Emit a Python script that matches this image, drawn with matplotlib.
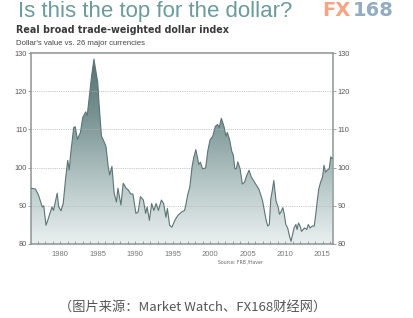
import numpy as np
import matplotlib
matplotlib.use("Agg")
import matplotlib.pyplot as plt
from matplotlib.colors import LinearSegmentedColormap

# Real broad trade-weighted dollar index
years = [1976.1, 1976.7, 1977.1, 1977.6, 1977.8, 1978.1, 1978.4, 1978.9, 1979.1, 1979.3,
         1979.6, 1979.8, 1980.1, 1980.4, 1980.7, 1981.0, 1981.2, 1981.4, 1981.8, 1982.0,
         1982.3, 1982.7, 1983.0, 1983.4, 1983.6, 1984.0, 1984.2, 1984.5, 1984.7, 1985.0,
         1985.2, 1985.5, 1985.8, 1986.1, 1986.4, 1986.6, 1986.9, 1987.2, 1987.5, 1987.7,
         1988.1, 1988.4, 1988.8, 1989.1, 1989.4, 1989.7, 1990.1, 1990.4, 1990.7, 1991.1,
         1991.4, 1991.6, 1991.9, 1992.2, 1992.5, 1992.8, 1993.1, 1993.5, 1993.8, 1994.1,
         1994.3, 1994.6, 1994.9, 1995.3, 1995.7, 1996.2, 1996.6, 1996.8, 1997.0, 1997.3,
         1997.6, 1997.8, 1998.1, 1998.5, 1998.7, 1999.0, 1999.4, 1999.7, 2000.0, 2000.35,
         2000.7, 2001.0, 2001.2, 2001.5, 2001.7, 2001.9, 2002.1, 2002.3, 2002.6, 2002.9,
         2003.1, 2003.3, 2003.5, 2003.7, 2004.0, 2004.3, 2004.6, 2004.9, 2005.2, 2005.5,
         2005.8, 2006.2, 2006.5, 2006.8, 2007.0, 2007.3, 2007.5, 2007.7, 2007.9, 2008.1,
         2008.3, 2008.5, 2008.6, 2008.8, 2009.1, 2009.25, 2009.5, 2009.7, 2009.9, 2010.1,
         2010.35, 2010.6, 2010.8, 2011.0, 2011.2, 2011.45, 2011.6, 2011.8, 2012.0, 2012.2,
         2012.6, 2012.9, 2013.1, 2013.35, 2013.65, 2013.9, 2014.1, 2014.3, 2014.5, 2014.75,
         2015.0, 2015.2, 2015.4, 2015.6, 2015.9, 2016.1, 2016.3]
index = [94.6, 94.4, 92.8, 89.7, 90.0, 84.9, 86.6, 89.7, 88.8, 90.6,
         93.3, 89.7, 88.7, 90.6, 96.8, 101.9, 99.4, 103.7, 110.5, 110.7,
         107.4, 109.2, 113.1, 114.6, 113.6, 120.6, 124.2, 128.4, 125.9, 122.4,
         116.2, 108.3, 107.0, 105.6, 100.3, 98.1, 100.3, 93.3, 91.0, 94.6,
         90.2, 95.9, 94.6, 94.1, 93.1, 93.1, 88.0, 88.4, 92.4, 91.5,
         88.0, 89.7, 86.2, 90.6, 88.8, 90.6, 88.8, 91.5, 90.6, 87.0,
         89.3, 84.9, 84.4, 86.2, 87.5, 88.4, 88.8, 90.6, 92.8, 95.0,
         100.3, 102.5, 104.7, 100.8, 101.4, 99.7, 99.9, 104.5, 107.3, 108.2,
         110.8, 111.3, 110.4, 112.9, 111.7, 110.4, 108.2, 109.2, 107.3, 104.2,
         103.3, 99.7, 99.7, 101.5, 99.7, 95.7, 96.2, 98.0, 99.3, 97.5,
         96.6, 95.3, 94.4, 92.6, 91.3, 88.2, 86.0, 84.7, 85.1, 91.8,
         94.0, 96.6, 94.9, 91.3, 89.5, 87.8, 88.6, 89.5, 87.8, 85.1,
         84.2, 82.0, 80.7, 82.4, 84.2, 85.1, 83.8, 85.5, 84.7, 83.3,
         84.2, 83.8, 85.1, 84.2, 84.7, 84.7, 87.8, 91.3, 94.4, 96.2,
         97.5, 100.6, 98.8, 99.3, 99.7, 102.8, 102.4]

y_ticks = [80, 90, 100, 110, 120, 130]
x_ticks = [1980, 1985, 1990, 1995, 2000, 2005, 2010, 2015]

W, H = 414, 318
fig = plt.figure(figsize=(W / 100, H / 100), dpi=100)
fig.patch.set_facecolor("white")


def px(x, y):
    # pixel position (from top-left) -> figure fraction
    return x / W, 1 - y / H


ax = fig.add_axes([31 / W, (H - 244) / H, 302 / W, 191 / H])
x0, x1 = 1976.1, 2016.4
ax.set_xlim(x0, x1)
ax.set_ylim(80, 130)

# gradient fill under the curve
cmap = LinearSegmentedColormap.from_list("g", ["#eaf0f0", "#b4c5c5", "#7a9494", "#536e6e"])
grad = np.linspace(0, 1, 256).reshape(-1, 1)
img = ax.imshow(grad, extent=[x0, x1, 80, 130], origin="lower", aspect="auto",
                cmap=cmap, zorder=1)
poly = ax.fill_between(years, index, 80, facecolor="none", edgecolor="none")
img.set_clip_path(poly.get_paths()[0], transform=ax.transData)
ax.plot(years, index, color="#5c7474", lw=0.8, zorder=3)

for v in y_ticks[1:-1]:
    ax.axhline(v, color="#b5b5b5", lw=0.6, ls=(0, (1, 1.2)), zorder=2)

for s in ax.spines.values():
    s.set_color("#8c9494")
    s.set_linewidth(1.1)

ax.set_yticks(y_ticks)
ax.set_xticks(x_ticks)
ax.set_xticks(np.arange(1977, 2017), minor=True)
ax.tick_params(axis="y", which="both", left=True, right=True, labelleft=True,
               labelright=True, direction="out", length=2, width=0.6,
               color="#8c9494", labelsize=5.3, labelcolor="#555555", pad=1)
ax.tick_params(axis="x", which="both", direction="in", length=2, width=0.6,
               color="#8c9494", labelsize=5.5, labelcolor="#777777", pad=5)
for lab in ax.get_yticklabels() + ax.get_xticklabels():
    lab.set_family("Liberation Sans")

# header texts
fig.text(*px(18, 17), "Is this the top for the dollar?", family="Liberation Sans",
         fontsize=16, color="#6b9b9b", va="baseline")
fig.text(*px(322, 16), "FX", family="DejaVu Sans", weight="bold",
         fontsize=14, color="#f3a584", va="baseline")
fig.text(*px(353, 16), "168", family="DejaVu Sans", weight="bold",
         fontsize=14, color="#93acc2", va="baseline")
fig.text(*px(16, 33), "Real broad trade-weighted dollar index", family="DejaVu Sans",
         weight="bold", fontsize=6.9, color="#3a3a3a", va="baseline")
fig.text(*px(16, 45), "Dollar's value vs. 26 major currencies", family="Liberation Sans",
         fontsize=5.6, color="#444444", va="baseline")
fig.text(*px(218, 263), "Source: FRB /Haver", family="DejaVu Sans",
         fontsize=3.3, color="#666666", va="baseline")

fig.text(*px(193, 311), "（图片来源：Market Watch、FX168财经网）",
         family=["Noto Sans CJK SC", "DejaVu Sans"], fontsize=9.5,
         color="#555555", ha="center", va="baseline")

fig.savefig("out.png", dpi=100, facecolor="white")
